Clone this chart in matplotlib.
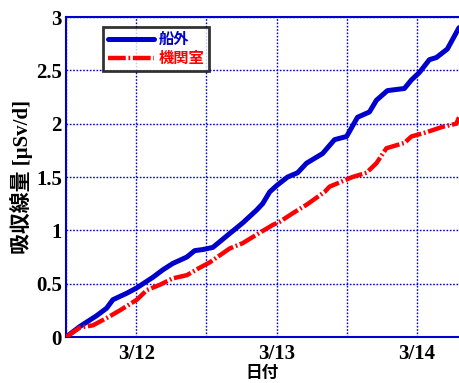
import matplotlib
matplotlib.use("Agg")
import matplotlib.pyplot as plt

# time in days since 3/11 12:00
t_out = [0, 0.10, 0.218, 0.289, 0.334, 0.432, 0.503, 0.619, 0.690, 0.761, 0.861, 0.917, 0.974,
         1.046, 1.166, 1.259, 1.358, 1.401, 1.451, 1.501, 1.579, 1.650, 1.714, 1.828, 1.913,
         1.999, 2.077, 2.162, 2.212, 2.290, 2.411, 2.461, 2.518, 2.589, 2.639, 2.717, 2.80]
v_out = [0, 0.10, 0.20, 0.27, 0.35, 0.41, 0.46, 0.56, 0.63, 0.69, 0.75, 0.81, 0.82,
         0.84, 0.97, 1.07, 1.19, 1.25, 1.36, 1.42, 1.50, 1.54, 1.63, 1.72, 1.85,
         1.88, 2.06, 2.11, 2.22, 2.31, 2.33, 2.41, 2.48, 2.60, 2.62, 2.70, 2.90]

t_eng = [0, 0.10, 0.192, 0.292, 0.384, 0.505, 0.576, 0.669, 0.761, 0.861, 0.953, 1.024,
         1.166, 1.259, 1.358, 1.472, 1.522, 1.615, 1.714, 1.842, 1.878, 2.041, 2.141,
         2.212, 2.283, 2.411, 2.461, 2.568, 2.681, 2.781, 2.80]
v_eng = [0, 0.09, 0.11, 0.18, 0.25, 0.35, 0.44, 0.49, 0.55, 0.58, 0.65, 0.70,
         0.83, 0.88, 0.96, 1.05, 1.08, 1.16, 1.24, 1.36, 1.41, 1.50, 1.54,
         1.63, 1.77, 1.82, 1.88, 1.92, 1.97, 2.00, 2.06]

xtick_pos = [0.5, 1.5, 2.5]
xtick_labels = ["3/12", "3/13", "3/14"]
ytick_pos = [0, 0.5, 1, 1.5, 2, 2.5, 3]
ytick_labels = ["0", "0.5", "1", "1.5", "2", "2.5", "3"]

series_names = ["船外", "機関室"]
colors = ["#0000cc", "#ff0000"]

fig = plt.figure(figsize=(4.59, 3.83), dpi=100)
ax = fig.add_axes([0.1438, 0.120, 0.8562, 0.8356])

l1, = ax.plot(t_out, v_out, color=colors[0], lw=3.6, solid_capstyle="round", zorder=3)
l2, = ax.plot(t_eng, v_eng, color=colors[1], lw=3.2, zorder=3,
              dashes=(4.0, 0.6, 0.4, 0.6))

ax.set_xlim(0, 2.80)
ax.set_ylim(0, 3)
ax.set_xticks(xtick_pos)
ax.set_xticks([0, 1, 2], minor=True)
ax.set_xticklabels(xtick_labels)
ax.set_yticks(ytick_pos)
ax.set_yticklabels(ytick_labels)
ax.grid(True, which="both", color="#0000cc", ls=(0, (1.2, 1.2)), lw=1.0)
ax.tick_params(axis="x", which="both", length=0, pad=5)
ax.tick_params(axis="y", which="both", length=0, pad=3)
for lab in ax.get_xticklabels() + ax.get_yticklabels():
    lab.set_family("Liberation Serif")
    lab.set_weight("bold")
    lab.set_fontsize(15)

for s in ["left", "bottom", "top"]:
    ax.spines[s].set_color("#0000cc")
    ax.spines[s].set_linewidth(1.5)
ax.spines["right"].set_visible(False)

ax.set_ylabel("吸収線量 [μSv/d]", family=["Liberation Serif", "Noto Sans CJK JP"],
              fontweight="bold", fontsize=15, labelpad=2)
ax.set_xlabel("日付", family=["Noto Sans CJK JP"], fontweight="bold", fontsize=12, labelpad=0)

leg = ax.legend([l1, l2], series_names, loc="upper left", bbox_to_anchor=(0.095, 0.97),
                prop={"family": "Noto Sans CJK JP", "weight": "bold", "size": 11},
                frameon=True, fancybox=False, handlelength=3.0, handletextpad=0.3,
                borderpad=0.3, labelspacing=0.2, borderaxespad=0)
leg.get_frame().set_edgecolor("black")
leg.get_frame().set_linewidth(2)
for txt, c in zip(leg.get_texts(), colors):
    txt.set_color(c)

fig.savefig("out.png", dpi=100)
